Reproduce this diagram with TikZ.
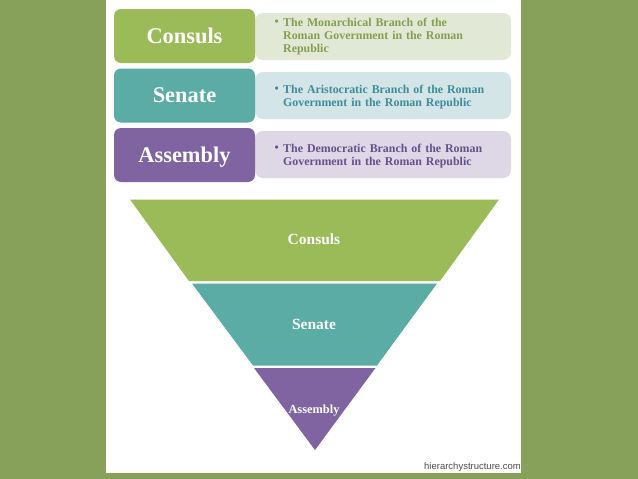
\documentclass[tikz,border=0pt]{standalone}
\usepackage{fontspec}
\setmainfont{Liberation Serif}
\newfontfamily\marksans{Liberation Sans}
\usepackage{tikz}
\usetikzlibrary{positioning}
\definecolor{slidegreen}{HTML}{87A05A}
\definecolor{consulgreen}{HTML}{9BBB59}
\definecolor{senateteal}{HTML}{5BACA5}
\definecolor{assemblypurple}{HTML}{8064A2}
\definecolor{consullight}{HTML}{E2E8D6}
\definecolor{senatelight}{HTML}{D3E5E6}
\definecolor{assemblylight}{HTML}{DED8E6}
\definecolor{consulink}{HTML}{83A04F}
\definecolor{senateink}{HTML}{3F8C9C}
\definecolor{assemblyink}{HTML}{66508A}
\tikzset{
  headbox/.style={rounded corners=7pt,minimum width=141pt,minimum height=54pt,inner sep=0pt,
    text=white,font=\fontsize{22.4}{24}\selectfont\bfseries},
  notebox/.style={rounded corners=8pt,minimum width=256pt,minimum height=47pt,inner sep=0pt},
  notetext/.style={inner sep=0pt,anchor=north west,align=left,text width=225pt,
    font=\fontsize{11.9}{13}\selectfont\bfseries},
  notedot/.style={inner sep=0pt,font=\fontsize{11.9}{13}\selectfont\bfseries,left=4pt of #1.north west,yshift=-5pt},
  layerlabel/.style={inner sep=0pt,text=white,font=\fontsize{15.5}{17}\selectfont\bfseries}
}
\begin{document}
\begin{tikzpicture}[x=1pt,y=-1pt]
  \useasboundingbox (0,0) rectangle (638,479);
  \fill[slidegreen] (0,0) rectangle (638,479);
  \fill[white] (106,0) rectangle (521,473);
  % upper list
  \node[notebox,fill=consullight](consulnote) at (383,36.5){};
  \node[notebox,fill=senatelight](senatenote) at (383,95.5){};
  \node[notebox,fill=assemblylight](assemblynote) at (383,154.5){};
  \node[headbox,fill=consulgreen,text depth=0pt](consulhead) at (184.5,36){Consuls};
  \node[headbox,fill=senateteal,text depth=0pt](senatehead) at (184.5,95.5){Senate};
  \node[headbox,fill=assemblypurple,text depth=0pt](assemblyhead) at (184.5,155){Assembly};
  \node[notetext,text=consulink](consultext) at (283,17.5){The Monarchical Branch of the\\Roman Government in the Roman\\Republic};
  \node[notetext,text=senateink](senatetext) at (283,84.5){The Aristocratic Branch of the Roman\\Government in the Roman Republic};
  \node[notetext,text=assemblyink](assemblytext) at (283,143.5){The Democratic Branch of the Roman\\Government in the Roman Republic};
  \node[notedot=consultext,text=consulink](consuldot){\textbullet};
  \node[notedot=senatetext,text=senateink](senatedot){\textbullet};
  \node[notedot=assemblytext,text=assemblyink](assemblydot){\textbullet};
  % funnel
  \fill[consulgreen] (130,199.5) -- (499,199.5) -- (440,281) -- (189,281) -- cycle;
  \fill[senateteal] (192,283.5) -- (437,283.5) -- (377,365.5) -- (253,365.5) -- cycle;
  \fill[assemblypurple] (254,368) -- (375.5,368) -- (315,450) -- cycle;
  \node[layerlabel,text depth=0pt](consullayer) at (314,239.5){Consuls};
  \node[layerlabel,text depth=0pt](senatelayer) at (314,324){Senate};
  \node[layerlabel,text depth=0pt,font=\fontsize{12.4}{14}\selectfont\bfseries](assemblylayer) at (314,409){Assembly};
  \node[inner sep=0pt,anchor=east,text=black!70,font=\marksans\fontsize{9.5}{11}\selectfont](marktext) at (521,467){hierarchystructure.com};
\end{tikzpicture}
\end{document}
